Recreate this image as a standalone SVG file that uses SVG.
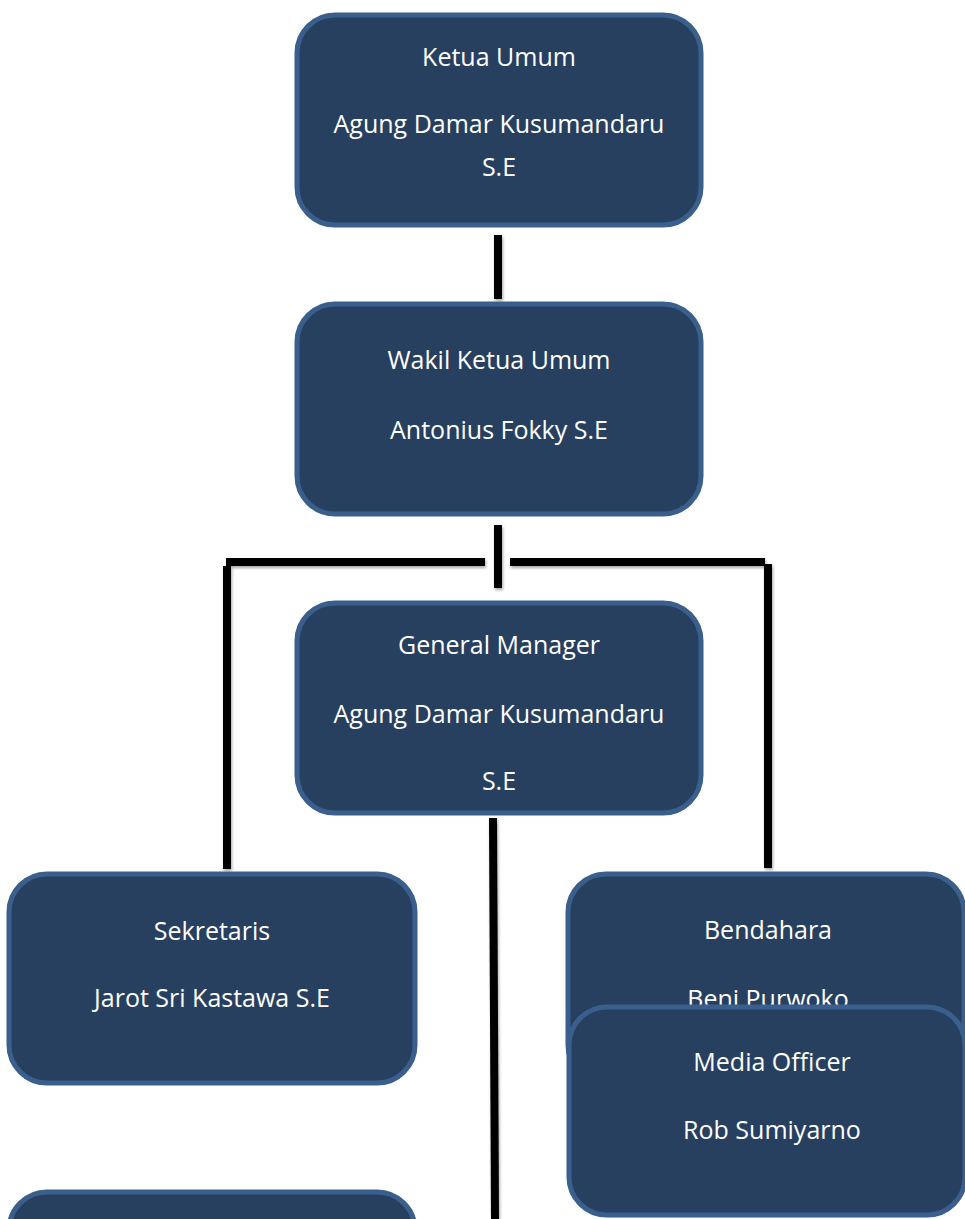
<svg xmlns="http://www.w3.org/2000/svg" width="965" height="1219" viewBox="0 0 965 1219">
<style>
.box{fill:#27405F;stroke:#3A5F8C;stroke-width:5}
.t{font-family:"Open Sans","Liberation Sans",sans-serif;font-size:25px;fill:#FFFFFF;text-anchor:middle}
.ln{fill:#000000;filter:url(#sh)}
</style>
<defs>
<filter id="sh" x="-50%" y="-50%" width="200%" height="200%">
<feDropShadow dx="1" dy="2" stdDeviation="1.5" flood-color="#000" flood-opacity="0.35"/>
</filter>
</defs>
<g id="connectors">
<rect class="ln" x="494" y="235" width="8" height="64"/>
<rect class="ln" x="494" y="525" width="8" height="63"/>
<rect class="ln" x="226" y="558" width="259" height="8"/>
<rect class="ln" x="510" y="558" width="255" height="8"/>
<rect class="ln" x="223" y="566" width="8" height="303"/>
<rect class="ln" x="764" y="564" width="8" height="304"/>
<polygon class="ln" points="489,818 497,818 499,1219 491,1219"/>
</g>
<g id="ketua-umum">
<rect class="box" x="297" y="15" width="404" height="210" rx="38"/>
<text class="t" x="499" y="66">Ketua Umum</text>
<text class="t" x="499" y="133">Agung Damar Kusumandaru</text>
<text class="t" x="499" y="176">S.E</text>
</g>
<g id="wakil-ketua-umum">
<rect class="box" x="297" y="304" width="404" height="210" rx="38"/>
<text class="t" x="499" y="369">Wakil Ketua Umum</text>
<text class="t" x="499" y="439">Antonius Fokky S.E</text>
</g>
<g id="general-manager">
<rect class="box" x="297" y="603" width="404" height="210" rx="38"/>
<text class="t" x="499" y="654">General Manager</text>
<text class="t" x="499" y="723">Agung Damar Kusumandaru</text>
<text class="t" x="499" y="790">S.E</text>
</g>
<g id="sekretaris">
<rect class="box" x="9" y="874" width="406" height="209" rx="38"/>
<text class="t" x="212" y="940">Sekretaris</text>
<text class="t" x="212" y="1007">Jarot Sri Kastawa S.E</text>
</g>
<g id="bendahara">
<rect class="box" x="568" y="874" width="396" height="209" rx="38"/>
<text class="t" x="768" y="939">Bendahara</text>
<text class="t" x="768" y="1008">Beni Purwoko</text>
</g>
<g id="media-officer">
<rect class="box" x="569" y="1007" width="396" height="208" rx="38"/>
<text class="t" x="772" y="1071">Media Officer</text>
<text class="t" x="772" y="1139">Rob Sumiyarno</text>
</g>
<g id="bottom-box">
<rect class="box" x="9" y="1192" width="406" height="209" rx="38"/>
</g>
</svg>
